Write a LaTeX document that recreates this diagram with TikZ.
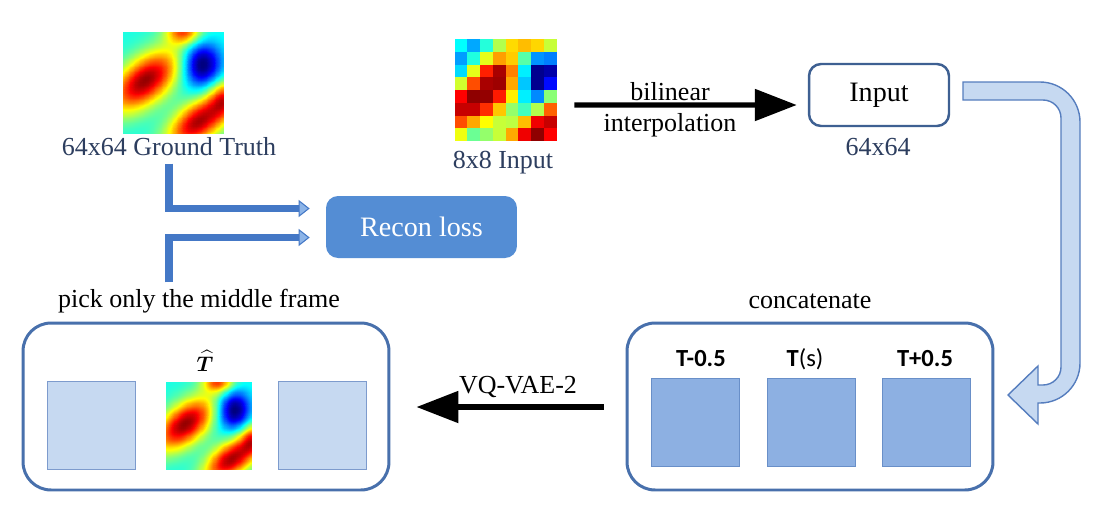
\documentclass[tikz,border=0pt]{standalone}
\usepackage{fontspec}
\setmainfont{Liberation Serif}
\newfontfamily\calibri{Carlito}
\usepackage{amsmath}
\usepackage{bm}
\usepackage{pgfplots}
\pgfplotsset{compat=1.18}
\pgfplotsset{colormap/jet}
\usetikzlibrary{positioning, arrows.meta, calc}

\definecolor{slate}{RGB}{45,62,95}
\definecolor{boxblue}{RGB}{72,112,172}
\definecolor{inedge}{RGB}{62,96,146}
\definecolor{reconblue}{RGB}{84,141,212}
\definecolor{catfill}{RGB}{141,176,226}
\definecolor{catedge}{RGB}{105,143,200}
\definecolor{outfill}{RGB}{198,217,241}
\definecolor{outedge}{RGB}{125,155,205}
\definecolor{lblue}{RGB}{68,120,198}
\definecolor{lbluetip}{RGB}{140,180,232}
\definecolor{uedge}{RGB}{85,125,190}

\tikzset{
	txt/.style={font=\fontsize{14.8}{17}\selectfont, inner sep=0pt},
	dimtxt/.style={txt, text=slate},
	tlabel/.style={font=\calibri\fontsize{14}{17}\selectfont, inner sep=0pt},
	% rounded group frames around the three slices
	group/.style={draw=boxblue, line width=1.7pt, rounded corners=0.56cm, minimum width=7.32cm, minimum height=3.34cm},
	catframe/.style={draw=catedge, fill=catfill, minimum size=1.76cm, inner sep=0pt},
	outframe/.style={draw=outedge, fill=outfill, minimum size=1.76cm, inner sep=0pt},
	inbox/.style={draw=inedge, line width=1.4pt, rounded corners=0.24cm, minimum width=2.8cm, minimum height=1.24cm, font=\fontsize{16}{19}\selectfont},
	reconbox/.style={fill=reconblue, rounded corners=0.24cm, minimum width=3.82cm, minimum height=1.24cm, text=white, font=\fontsize{16}{19}\selectfont},
	fatarrow/.style={line width=3pt, -{Triangle[length=0.84cm, width=0.62cm]}},
	larrow/.style={draw=lblue, line width=4.5pt, -{Triangle[length=0.22cm, width=0.34cm, line width=0.6pt, fill=lbluetip]}},
	uarrow/.style={draw=uedge, fill=outfill, line width=0.8pt},
	declare function={
		ga(\x,\y)=0.78*(\x-0.22)+0.62*(\y-0.52);
		gb(\x,\y)=-0.62*(\x-0.22)+0.78*(\y-0.52);
		ha(\x,\y)=0.8*(\x-0.75)+0.6*(\y-0.12);
		hb(\x,\y)=-0.6*(\x-0.75)+0.8*(\y-0.12);
		vort(\x,\y)=0.4+0.58*exp(-(ga(\x,\y)^2/0.16+gb(\x,\y)^2/0.045))
			+0.56*exp(-(ha(\x,\y)^2/0.13+hb(\x,\y)^2/0.035))
			-0.44*exp(-((\x-0.78)^2/0.035+(\y-0.68)^2/0.05))
			+0.4*exp(-((\x-0.6)^2/0.03+(\y-1)^2/0.015))
			+0.3*exp(-((\x-1)^2/0.02+(\y-0.35)^2/0.03));
	},
}

% smooth field drawn into an empty node
\newcommand{\vortmap}[3]{%
	\begin{axis}[at={(#1.south west)}, anchor=south west, width=#2, height=#3,
		scale only axis, hide axis, view={0}{90}, colormap/jet,
		point meta min=0, point meta max=1, enlargelimits=false,
		domain=0:1, y domain=0:1]
		\addplot3[surf, shader=interp, samples=41] {vort(x,y)};
	\end{axis}}

\begin{document}
\begin{tikzpicture}[x=0.02cm, y=-0.02cm]
	\fill[white] (0,0) rectangle (1111,511);
	\useasboundingbox (0,0) rectangle (1111,511);
	
	% ground truth and coarse input
	\node (gt) [inner sep=0pt, minimum width=2.02cm, minimum height=2.04cm] at (173.5,82) {};
	\node (gtlbl) [dimtxt, anchor=base] at (169,155) {64x64 Ground Truth};
	\node (inp8) [inner sep=0pt, minimum size=2.04cm] at (506,90.5) {};
	\node (inp8lbl) [dimtxt, anchor=base] at (503,168) {8x8 Input};
	
	\node (input) [inbox] at (879,95) {Input};
	\node (inputlbl) [dimtxt, anchor=base] at (878,155) {64x64};
	\node (bil) [txt, anchor=base] at (670,100) {bilinear};
	\node (interp) [txt, anchor=base] at (670,131) {interpolation};
	
	\node (recon) [reconbox] at (421.5,227) {Recon loss};
	\node (pick) [txt, anchor=base] at (199,307) {pick only the middle frame};
	
	% concatenated slices
	\node (cat) [group] at (810,406.5) {};
	\node (catlbl) [txt, anchor=base] at (810,308) {concatenate};
	\node (cm) [catframe] at (695,422) {};
	\node (c0) [catframe] at (811,422) {};
	\node (cp) [catframe] at (926,422) {};
	\node (tm) [tlabel, anchor=base] at (701,366) {\textbf{T-0.5}};
	\node (t0) [tlabel, anchor=base] at (805,366) {\textbf{T}(s)};
	\node (tp) [tlabel, anchor=base] at (925,366) {\textbf{T+0.5}};
	
	% decoded slices
	\node (outbox) [group] at (206,406.5) {};
	\node (oleft) [outframe] at (91,425) {};
	\node (omid) [inner sep=0pt, minimum width=1.74cm, minimum height=1.76cm] at (209.5,425) {};
	\node (oright) [outframe] at (322,425) {};
	\node (that) [font=\fontsize{12}{14}\selectfont, inner sep=0pt] at (205,361) {$\widehat{\bm{T}}$};
	\node (vq) [txt, anchor=base] at (518,393) {VQ-VAE-2};
	
	% 8x8 cells
	\foreach \row [count=\r] in {
		{375,290,410,550,660,690,665,570},
		{280,405,600,720,675,460,270,250},
		{340,600,845,960,750,360,15,40},
		{580,800,960,970,710,320,15,135},
		{875,985,980,850,640,360,260,510},
		{930,930,830,680,520,440,550,780},
		{800,710,625,570,560,690,890,930},
		{610,480,520,570,710,890,985,875}}
		\foreach \v [count=\c] in \row
			\fill[color of colormap={\v of jet}] ([shift={(\c*12.75-12.75,\r*12.75-12.75)}]inp8.north west) rectangle +(12.75,12.75);
	
	\begin{scope}[x=1cm, y=1cm]
		\vortmap{gt}{2.02cm}{2.04cm}
		\vortmap{omid}{1.74cm}{1.76cm}
	\end{scope}
	
	\draw[fatarrow] ([shift={(17,14.5)}]inp8.east) -- ([shift={(-11,10)}]input.west);
	\draw[fatarrow] ([shift={(-22,0.5)}]cat.west) -- ([shift={(26,0.5)}]outbox.east);
	
	\draw[larrow] ([shift={(0,8)}]gtlbl.south) |- ([shift={(-16,-18.5)}]recon.west);
	\draw[larrow] ([shift={(-30,-6)}]pick.north) |- ([shift={(-16,10.5)}]recon.west);
	
	% u-turn block arrow
	\draw[uarrow] (963,82) -- (1040,82) arc[start angle=-90, end angle=0, radius=40] -- (1080,363) arc[start angle=0, end angle=90, radius=40] -- (1038,403) -- (1038,424) -- (1008,395) -- (1038,366) -- (1038,385) -- (1043,385) arc[start angle=90, end angle=0, radius=18] -- (1061,118) arc[start angle=0, end angle=-90, radius=18] -- (963,100) -- cycle;
	
\end{tikzpicture}
\end{document}
